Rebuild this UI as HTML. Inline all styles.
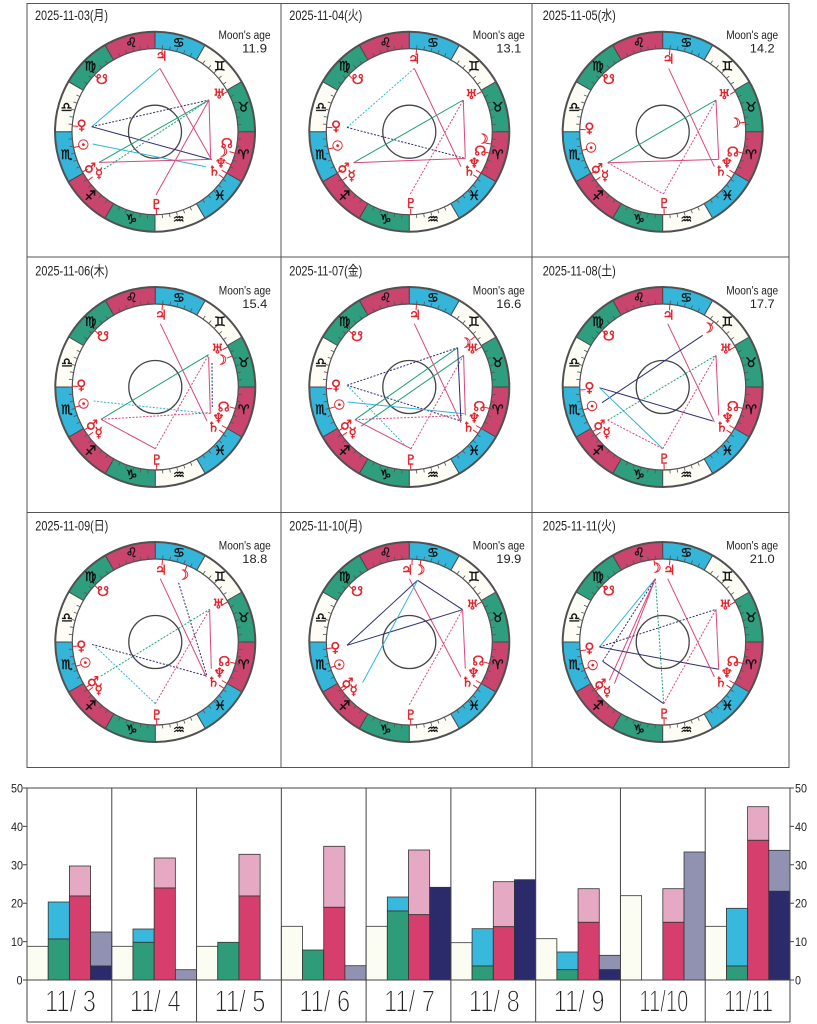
<!DOCTYPE html>
<html><head><meta charset="utf-8"><style>
html,body{margin:0;padding:0;background:#fff}
svg{display:block}
.z text{font-family:"DejaVu Sans",sans-serif;font-size:13px;fill:#111;stroke:#111;stroke-width:.45;text-anchor:middle;dominant-baseline:central}
.pl text{font-family:"DejaVu Sans",sans-serif;font-size:13.5px;fill:#e2232c;stroke:#e2232c;stroke-width:.4;text-anchor:middle;dominant-baseline:central}
.tk line{stroke:#e2232c;stroke-width:1}
.d{font-family:"Liberation Sans","Noto Sans CJK JP",sans-serif;font-size:13.5px;fill:#222}
.m{font-family:"Liberation Sans",sans-serif;font-size:11.5px;fill:#222}
.ln path{fill:none;stroke-width:1}
.p{stroke:#dc4677}.pd{stroke:#dc4677;stroke-dasharray:2 1.5}
.c{stroke:#2fb6d8}.cd{stroke:#2fb6d8;stroke-dasharray:2 1.5}
.g{stroke:#1f9e72}.gd{stroke:#1f9e72;stroke-dasharray:2 1.5}
.n{stroke:#2d2d72}.nd{stroke:#2d2d72;stroke-dasharray:2 1.5}
.bar rect{stroke:#333;stroke-width:.8}
.ax{font-family:"Liberation Sans",sans-serif;font-size:12px;fill:#222}
.dl{font-family:"Liberation Sans",sans-serif;font-size:31px;fill:#222;stroke:#fff;stroke-width:1.1;text-anchor:middle}
</style></head><body>
<svg width="817" height="1024" viewBox="0 0 817 1024" xmlns="http://www.w3.org/2000/svg">
<defs>
<g id="ring">
<circle r="100" fill="#fff"/>
<circle r="91.5" fill="none" stroke="#c9456e" stroke-width="17" stroke-dasharray="47.913 143.739"/>
<circle r="91.5" fill="none" stroke="#35b5d9" stroke-width="17" stroke-dasharray="47.913 143.739" stroke-dashoffset="-47.913"/>
<circle r="91.5" fill="none" stroke="#fdfdf6" stroke-width="17" stroke-dasharray="47.913 143.739" stroke-dashoffset="-95.826"/>
<circle r="91.5" fill="none" stroke="#2f9e7e" stroke-width="17" stroke-dasharray="47.913 143.739" stroke-dashoffset="-143.739"/>
<path d="M83,0L100,0M71.88,-41.5L86.6,-50M41.5,-71.88L50,-86.6M0,-83L0,-100M-41.5,-71.88L-50,-86.6M-71.88,-41.5L-86.6,-50M-83,0L-100,0M-71.88,41.5L-86.6,50M-41.5,71.88L-50,86.6M0,83L0,100M41.5,71.88L50,86.6M71.88,41.5L86.6,50" stroke="#444" stroke-width="1"/>
<circle r="85" fill="none" stroke="#555" stroke-width="3.5" stroke-dasharray="0.8 6.6176" stroke-dashoffset="0.4"/>
<circle r="100" fill="none" stroke="#505050" stroke-width="2"/>
<circle r="83" fill="none" stroke="#505050" stroke-width="1.2"/>
<circle r="26.5" fill="none" stroke="#444" stroke-width="1.3"/>
</g>
</defs>

<!-- grid -->
<g stroke="#555" stroke-width="1" fill="none">
<rect x="27" y="3.5" width="762" height="764"/>
<path d="M281,3.5V767.5M532,3.5V767.5M27,257H789M27,512.5H789"/>
</g>

<!-- Chart 1 -->
<g transform="translate(155,131.7)">
<use href="#ring"/>
<g class="z"><text x="88.4" y="-23.7">&#x2649;&#xFE0E;</text><text x="64.7" y="-64.7">&#x264A;&#xFE0E;</text><text x="23.7" y="-88.4">&#x264B;&#xFE0E;</text><text x="-23.7" y="-88.4">&#x264C;&#xFE0E;</text><text x="-64.7" y="-64.7">&#x264D;&#xFE0E;</text><text x="-88.4" y="-23.7">&#x264E;&#xFE0E;</text><text x="-88.4" y="23.7">&#x264F;&#xFE0E;</text><text x="-64.7" y="64.7">&#x2650;&#xFE0E;</text><text x="-23.7" y="88.4">&#x2651;&#xFE0E;</text><text x="23.7" y="88.4">&#x2652;&#xFE0E;</text><text x="64.7" y="64.7">&#x2653;&#xFE0E;</text><text x="88.4" y="23.7">&#x2648;&#xFE0E;</text></g>
<text class="d" x="-120" y="-111.5" textLength="73" lengthAdjust="spacingAndGlyphs">2025-11-03(月)</text>
<text class="m" x="63.5" y="-92.5" textLength="52" lengthAdjust="spacingAndGlyphs">Moon's age</text>
<text class="m" x="87" y="-79" textLength="25" lengthAdjust="spacingAndGlyphs">11.9</text>
<g class="tk"><line x1="77" x2="83" transform="rotate(-85)"/><line x1="77" x2="83" transform="rotate(-137)"/><line x1="77" x2="83" transform="rotate(-29)"/><line x1="77" x2="83" transform="rotate(-216)"/><line x1="77" x2="83" transform="rotate(89)"/><line x1="77" x2="83" transform="rotate(15)"/><line x1="77" x2="83" transform="rotate(30)"/><line x1="77" x2="83" transform="rotate(34)"/><line x1="77" x2="83" transform="rotate(-176)"/><line x1="77" x2="83" transform="rotate(-191)"/><line x1="77" x2="83" transform="rotate(-209)"/><line x1="77" x2="83" transform="rotate(23.5)"/></g>
<g class="pl"><text x="6.7" y="-75">♃</text><text x="-53.3" y="-51.7">☋</text><text x="64.3" y="-37.3">♅</text><text x="-73.3" y="-6">♀</text><text x="-71.7" y="14">☉</text><text x="-65" y="36.7">♂</text><text x="-56" y="41.7">☿</text><text x="1.7" y="73.3">♇</text><text x="71.7" y="12.3">☊</text><text x="67" y="21">☽</text><text x="66" y="31.7">♆</text><text x="59.3" y="40">♄</text></g>
<g class="ln"><path class="c" d="M-63.3-5L5-63.3"/><path class="p" d="M5-63.3L56.7 28.3"/><path class="nd" d="M-63.3-5L54-31.7"/><path class="n" d="M-63.3-5L55.7 27.7"/><path class="g" d="M-56 30.7L54-31.7"/><path class="gd" d="M-51 37.3L54-31.7"/><path class="p" d="M54-31.7L55.7 27.7"/><path class="p" d="M1 63.3L54-31.7"/><path class="c" d="M-62.3 12.3L51 35"/><path class="p" d="M-56 30.7L55.7 27.7"/></g>
</g>

<!-- Chart 2 -->
<g transform="translate(409.3,131.7)">
<use href="#ring"/>
<g class="z"><text x="88.4" y="-23.7">&#x2649;&#xFE0E;</text><text x="64.7" y="-64.7">&#x264A;&#xFE0E;</text><text x="23.7" y="-88.4">&#x264B;&#xFE0E;</text><text x="-23.7" y="-88.4">&#x264C;&#xFE0E;</text><text x="-64.7" y="-64.7">&#x264D;&#xFE0E;</text><text x="-88.4" y="-23.7">&#x264E;&#xFE0E;</text><text x="-88.4" y="23.7">&#x264F;&#xFE0E;</text><text x="-64.7" y="64.7">&#x2650;&#xFE0E;</text><text x="-23.7" y="88.4">&#x2651;&#xFE0E;</text><text x="23.7" y="88.4">&#x2652;&#xFE0E;</text><text x="64.7" y="64.7">&#x2653;&#xFE0E;</text><text x="88.4" y="23.7">&#x2648;&#xFE0E;</text></g>
<text class="d" x="-120" y="-111.5" textLength="73" lengthAdjust="spacingAndGlyphs">2025-11-04(火)</text>
<text class="m" x="63.5" y="-92.5" textLength="52" lengthAdjust="spacingAndGlyphs">Moon's age</text>
<text class="m" x="87" y="-79" textLength="25" lengthAdjust="spacingAndGlyphs">13.1</text>
<g class="tk"><line x1="77" x2="83" transform="rotate(-85)"/><line x1="77" x2="83" transform="rotate(-137)"/><line x1="77" x2="83" transform="rotate(-29)"/><line x1="77" x2="83" transform="rotate(-216)"/><line x1="77" x2="83" transform="rotate(89)"/><line x1="77" x2="83" transform="rotate(15)"/><line x1="77" x2="83" transform="rotate(30)"/><line x1="77" x2="83" transform="rotate(34)"/><line x1="77" x2="83" transform="rotate(-177)"/><line x1="77" x2="83" transform="rotate(-192)"/><line x1="77" x2="83" transform="rotate(-209.7)"/><line x1="77" x2="83" transform="rotate(8.5)"/></g>
<g class="pl"><text x="5" y="-72.3">♃</text><text x="-51.7" y="-51.7">☋</text><text x="62.3" y="-36.7">♅</text><text x="-73.3" y="-5">♀</text><text x="-71.7" y="15">☉</text><text x="-65.7" y="36.7">♂</text><text x="-57.7" y="44.3">☿</text><text x="1.7" y="72.3">♇</text><text x="73.3" y="7.7">☽</text><text x="71" y="20">☊</text><text x="65" y="31.7">♆</text><text x="60" y="40">♄</text></g>
<g class="ln"><path class="cd" d="M-62.3-4.3L5-63.3"/><path class="p" d="M5-63.3L51.7 35"/><path class="nd" d="M-62.3-4.3L56 26.7"/><path class="g" d="M-55.7 31L54-31.7"/><path class="p" d="M-55.7 31L56 26.7"/><path class="p" d="M54-31.7L56 26.7"/><path class="pd" d="M1 62.3L54-31.7"/></g>
</g>

<!-- Chart 3 -->
<g transform="translate(662.7,131.7)">
<use href="#ring"/>
<g class="z"><text x="88.4" y="-23.7">&#x2649;&#xFE0E;</text><text x="64.7" y="-64.7">&#x264A;&#xFE0E;</text><text x="23.7" y="-88.4">&#x264B;&#xFE0E;</text><text x="-23.7" y="-88.4">&#x264C;&#xFE0E;</text><text x="-64.7" y="-64.7">&#x264D;&#xFE0E;</text><text x="-88.4" y="-23.7">&#x264E;&#xFE0E;</text><text x="-88.4" y="23.7">&#x264F;&#xFE0E;</text><text x="-64.7" y="64.7">&#x2650;&#xFE0E;</text><text x="-23.7" y="88.4">&#x2651;&#xFE0E;</text><text x="23.7" y="88.4">&#x2652;&#xFE0E;</text><text x="64.7" y="64.7">&#x2653;&#xFE0E;</text><text x="88.4" y="23.7">&#x2648;&#xFE0E;</text></g>
<text class="d" x="-120" y="-111.5" textLength="73" lengthAdjust="spacingAndGlyphs">2025-11-05(水)</text>
<text class="m" x="63.5" y="-92.5" textLength="52" lengthAdjust="spacingAndGlyphs">Moon's age</text>
<text class="m" x="87" y="-79" textLength="25" lengthAdjust="spacingAndGlyphs">14.2</text>
<g class="tk"><line x1="77" x2="83" transform="rotate(-85)"/><line x1="77" x2="83" transform="rotate(-137)"/><line x1="77" x2="83" transform="rotate(-29)"/><line x1="77" x2="83" transform="rotate(-216)"/><line x1="77" x2="83" transform="rotate(89)"/><line x1="77" x2="83" transform="rotate(15)"/><line x1="77" x2="83" transform="rotate(30)"/><line x1="77" x2="83" transform="rotate(34)"/><line x1="77" x2="83" transform="rotate(-178.5)"/><line x1="77" x2="83" transform="rotate(-193)"/><line x1="77" x2="83" transform="rotate(-210.4)"/><line x1="77" x2="83" transform="rotate(-6.5)"/></g>
<g class="pl"><text x="6" y="-72.3">♃</text><text x="-54" y="-51.7">☋</text><text x="61.7" y="-36.7">♅</text><text x="72.3" y="-8.3">☽</text><text x="-73.3" y="-3.3">♀</text><text x="-71.7" y="16.7">☉</text><text x="70" y="21">☊</text><text x="64.3" y="31.7">♆</text><text x="58.3" y="40">♄</text><text x="-65.7" y="37.3">♂</text><text x="-57.7" y="44.3">☿</text><text x="1.7" y="72.3">♇</text></g>
<g class="ln"><path class="p" d="M6-63.3L51.7 35"/><path class="g" d="M-55 31L53.3-31.7"/><path class="p" d="M-55 31L56 27.7"/><path class="p" d="M53.3-31.7L56 27.7"/><path class="pd" d="M-55 31L0.7 62.3"/><path class="pd" d="M0.7 62.3L53.3-31.7"/></g>
</g>

<!-- Chart 4 -->
<g transform="translate(155.3,387)">
<use href="#ring"/>
<g class="z"><text x="88.4" y="-23.7">&#x2649;&#xFE0E;</text><text x="64.7" y="-64.7">&#x264A;&#xFE0E;</text><text x="23.7" y="-88.4">&#x264B;&#xFE0E;</text><text x="-23.7" y="-88.4">&#x264C;&#xFE0E;</text><text x="-64.7" y="-64.7">&#x264D;&#xFE0E;</text><text x="-88.4" y="-23.7">&#x264E;&#xFE0E;</text><text x="-88.4" y="23.7">&#x264F;&#xFE0E;</text><text x="-64.7" y="64.7">&#x2650;&#xFE0E;</text><text x="-23.7" y="88.4">&#x2651;&#xFE0E;</text><text x="23.7" y="88.4">&#x2652;&#xFE0E;</text><text x="64.7" y="64.7">&#x2653;&#xFE0E;</text><text x="88.4" y="23.7">&#x2648;&#xFE0E;</text></g>
<text class="d" x="-120" y="-111.5" textLength="73" lengthAdjust="spacingAndGlyphs">2025-11-06(木)</text>
<text class="m" x="63.5" y="-92.5" textLength="52" lengthAdjust="spacingAndGlyphs">Moon's age</text>
<text class="m" x="87" y="-79" textLength="25" lengthAdjust="spacingAndGlyphs">15.4</text>
<g class="tk"><line x1="77" x2="83" transform="rotate(-85)"/><line x1="77" x2="83" transform="rotate(-137)"/><line x1="77" x2="83" transform="rotate(-29)"/><line x1="77" x2="83" transform="rotate(-216)"/><line x1="77" x2="83" transform="rotate(89)"/><line x1="77" x2="83" transform="rotate(15)"/><line x1="77" x2="83" transform="rotate(30)"/><line x1="77" x2="83" transform="rotate(34)"/><line x1="77" x2="83" transform="rotate(-179.5)"/><line x1="77" x2="83" transform="rotate(-194)"/><line x1="77" x2="83" transform="rotate(-211.1)"/><line x1="77" x2="83" transform="rotate(-22)"/></g>
<g class="pl"><text x="5.7" y="-71.7">♃</text><text x="-52.3" y="-50">☋</text><text x="62.3" y="-37.3">♅</text><text x="65.7" y="-26.7">☽</text><text x="-74" y="-1.7">♀</text><text x="-71.7" y="17.3">☉</text><text x="68.3" y="20.7">☊</text><text x="63.3" y="31.7">♆</text><text x="58.3" y="40.7">♄</text><text x="-63.3" y="38.3">♂</text><text x="-56.7" y="46">☿</text><text x="1.7" y="73.3">♇</text></g>
<g class="ln"><path class="p" d="M5-63.3L51.7 34"/><path class="g" d="M-54.3 32.3L53.3-32.3"/><path class="cd" d="M-61.7 14L56 26.7"/><path class="pd" d="M-54.3 32.3L56 25.7"/><path class="p" d="M-54.3 32.3L0 61.7"/><path class="pd" d="M0 61.7L53.3-32.3"/><path class="p" d="M53.3-30L55 25"/><path class="nd" d="M56.7-24L57 20"/></g>
</g>

<!-- Chart 5 -->
<g transform="translate(409.3,387)">
<use href="#ring"/>
<g class="z"><text x="88.4" y="-23.7">&#x2649;&#xFE0E;</text><text x="64.7" y="-64.7">&#x264A;&#xFE0E;</text><text x="23.7" y="-88.4">&#x264B;&#xFE0E;</text><text x="-23.7" y="-88.4">&#x264C;&#xFE0E;</text><text x="-64.7" y="-64.7">&#x264D;&#xFE0E;</text><text x="-88.4" y="-23.7">&#x264E;&#xFE0E;</text><text x="-88.4" y="23.7">&#x264F;&#xFE0E;</text><text x="-64.7" y="64.7">&#x2650;&#xFE0E;</text><text x="-23.7" y="88.4">&#x2651;&#xFE0E;</text><text x="23.7" y="88.4">&#x2652;&#xFE0E;</text><text x="64.7" y="64.7">&#x2653;&#xFE0E;</text><text x="88.4" y="23.7">&#x2648;&#xFE0E;</text></g>
<text class="d" x="-120" y="-111.5" textLength="73" lengthAdjust="spacingAndGlyphs">2025-11-07(金)</text>
<text class="m" x="63.5" y="-92.5" textLength="52" lengthAdjust="spacingAndGlyphs">Moon's age</text>
<text class="m" x="87" y="-79" textLength="25" lengthAdjust="spacingAndGlyphs">16.6</text>
<g class="tk"><line x1="77" x2="83" transform="rotate(-85)"/><line x1="77" x2="83" transform="rotate(-137)"/><line x1="77" x2="83" transform="rotate(-29)"/><line x1="77" x2="83" transform="rotate(-216)"/><line x1="77" x2="83" transform="rotate(89)"/><line x1="77" x2="83" transform="rotate(15)"/><line x1="77" x2="83" transform="rotate(30)"/><line x1="77" x2="83" transform="rotate(34)"/><line x1="77" x2="83" transform="rotate(-181)"/><line x1="77" x2="83" transform="rotate(-195)"/><line x1="77" x2="83" transform="rotate(-211.8)"/><line x1="77" x2="83" transform="rotate(-37.5)"/></g>
<g class="pl"><text x="5.7" y="-71.7">♃</text><text x="-52.3" y="-50">☋</text><text x="56" y="-43.3">☽</text><text x="63.3" y="-37.3">♅</text><text x="-73.3" y="-1.7">♀</text><text x="-70" y="18.3">☉</text><text x="70" y="20">☊</text><text x="65" y="31.7">♆</text><text x="59.3" y="40.7">♄</text><text x="-63.3" y="38.3">♂</text><text x="-56.7" y="46">☿</text><text x="1.7" y="73.3">♇</text></g>
<g class="ln"><path class="p" d="M5-63.3L51.7 35.7"/><path class="nd" d="M-62.3-1.7L48.3-39.3"/><path class="nd" d="M-62.3-1.7L51.7 34"/><path class="cd" d="M-62.3-1.7L-3.3 59.3"/><path class="c" d="M-61.7 15L55 26.7"/><path class="g" d="M-54.3 32.7L48.3-39.3"/><path class="g" d="M-48.3 39.3L54.3-31.7"/><path class="p" d="M-54.3 32.7L1.7 61.7"/><path class="pd" d="M-54.3 32.7L54.3 28.3"/><path class="pd" d="M1.7 61.7L54.3-31.7"/><path class="n" d="M48.3-39.3L51.7 34"/><path class="p" d="M54.3-31.7L56 28.3"/></g>
</g>

<!-- Chart 6 -->
<g transform="translate(662.7,387)">
<use href="#ring"/>
<g class="z"><text x="88.4" y="-23.7">&#x2649;&#xFE0E;</text><text x="64.7" y="-64.7">&#x264A;&#xFE0E;</text><text x="23.7" y="-88.4">&#x264B;&#xFE0E;</text><text x="-23.7" y="-88.4">&#x264C;&#xFE0E;</text><text x="-64.7" y="-64.7">&#x264D;&#xFE0E;</text><text x="-88.4" y="-23.7">&#x264E;&#xFE0E;</text><text x="-88.4" y="23.7">&#x264F;&#xFE0E;</text><text x="-64.7" y="64.7">&#x2650;&#xFE0E;</text><text x="-23.7" y="88.4">&#x2651;&#xFE0E;</text><text x="23.7" y="88.4">&#x2652;&#xFE0E;</text><text x="64.7" y="64.7">&#x2653;&#xFE0E;</text><text x="88.4" y="23.7">&#x2648;&#xFE0E;</text></g>
<text class="d" x="-120" y="-111.5" textLength="73" lengthAdjust="spacingAndGlyphs">2025-11-08(土)</text>
<text class="m" x="63.5" y="-92.5" textLength="52" lengthAdjust="spacingAndGlyphs">Moon's age</text>
<text class="m" x="87" y="-79" textLength="25" lengthAdjust="spacingAndGlyphs">17.7</text>
<g class="tk"><line x1="77" x2="83" transform="rotate(-85)"/><line x1="77" x2="83" transform="rotate(-137)"/><line x1="77" x2="83" transform="rotate(-29)"/><line x1="77" x2="83" transform="rotate(-216)"/><line x1="77" x2="83" transform="rotate(89)"/><line x1="77" x2="83" transform="rotate(15)"/><line x1="77" x2="83" transform="rotate(30)"/><line x1="77" x2="83" transform="rotate(34)"/><line x1="77" x2="83" transform="rotate(-182)"/><line x1="77" x2="83" transform="rotate(-196)"/><line x1="77" x2="83" transform="rotate(-212.5)"/><line x1="77" x2="83" transform="rotate(-52)"/></g>
<g class="pl"><text x="6" y="-71.7">♃</text><text x="-54" y="-50.7">☋</text><text x="45" y="-58.3">☽</text><text x="63.3" y="-37.3">♅</text><text x="-73.3" y="1">♀</text><text x="-70.7" y="20">☉</text><text x="70" y="20">☊</text><text x="65" y="31.7">♆</text><text x="59.3" y="40.7">♄</text><text x="-63.3" y="38.3">♂</text><text x="-56" y="46">☿</text><text x="1.7" y="72.7">♇</text></g>
<g class="ln"><path class="p" d="M5-63.3L51.7 35"/><path class="n" d="M-60.7 15.7L40-51.7"/><path class="n" d="M-63.3 0.7L50 34"/><path class="c" d="M-63.3 0.7L0 61.7"/><path class="gd" d="M-55 33.3L53.3-31.7"/><path class="pd" d="M-55 33.3L0 61.7"/><path class="pd" d="M0 61.7L53.3-31.7"/><path class="p" d="M53.3-31.7L56 28.3"/></g>
</g>

<!-- Chart 7 -->
<g transform="translate(155.3,642)">
<use href="#ring"/>
<g class="z"><text x="88.4" y="-23.7">&#x2649;&#xFE0E;</text><text x="64.7" y="-64.7">&#x264A;&#xFE0E;</text><text x="23.7" y="-88.4">&#x264B;&#xFE0E;</text><text x="-23.7" y="-88.4">&#x264C;&#xFE0E;</text><text x="-64.7" y="-64.7">&#x264D;&#xFE0E;</text><text x="-88.4" y="-23.7">&#x264E;&#xFE0E;</text><text x="-88.4" y="23.7">&#x264F;&#xFE0E;</text><text x="-64.7" y="64.7">&#x2650;&#xFE0E;</text><text x="-23.7" y="88.4">&#x2651;&#xFE0E;</text><text x="23.7" y="88.4">&#x2652;&#xFE0E;</text><text x="64.7" y="64.7">&#x2653;&#xFE0E;</text><text x="88.4" y="23.7">&#x2648;&#xFE0E;</text></g>
<text class="d" x="-120" y="-111.5" textLength="73" lengthAdjust="spacingAndGlyphs">2025-11-09(日)</text>
<text class="m" x="63.5" y="-92.5" textLength="52" lengthAdjust="spacingAndGlyphs">Moon's age</text>
<text class="m" x="87" y="-79" textLength="25" lengthAdjust="spacingAndGlyphs">18.8</text>
<g class="tk"><line x1="77" x2="83" transform="rotate(-85)"/><line x1="77" x2="83" transform="rotate(-137)"/><line x1="77" x2="83" transform="rotate(-29)"/><line x1="77" x2="83" transform="rotate(-216)"/><line x1="77" x2="83" transform="rotate(89)"/><line x1="77" x2="83" transform="rotate(15)"/><line x1="77" x2="83" transform="rotate(30)"/><line x1="77" x2="83" transform="rotate(34)"/><line x1="77" x2="83" transform="rotate(-183)"/><line x1="77" x2="83" transform="rotate(-197)"/><line x1="77" x2="83" transform="rotate(-213.2)"/><line x1="77" x2="83" transform="rotate(-67.5)"/></g>
<g class="pl"><text x="5.7" y="-71.7">♃</text><text x="27.7" y="-66.7">☽</text><text x="-52.3" y="-50">☋</text><text x="63.3" y="-37.3">♅</text><text x="-74" y="4.3">♀</text><text x="-70" y="21.7">☉</text><text x="69" y="20">☊</text><text x="64.3" y="31.7">♆</text><text x="58.3" y="40.7">♄</text><text x="-62.3" y="40">♂</text><text x="-56.7" y="47.3">☿</text><text x="1.7" y="73.3">♇</text></g>
<g class="ln"><path class="p" d="M5-63.3L51 35"/><path class="nd" d="M23.3-59.3L51.7 34"/><path class="nd" d="M-63.3 2.3L51.7 34"/><path class="cd" d="M-62.3 2.3L0 61.7"/><path class="gd" d="M-54.3 34L54.3-32.7"/><path class="pd" d="M0 61.7L54.3-32.7"/><path class="p" d="M54.3-32.7L56 26.7"/></g>
</g>

<!-- Chart 8 -->
<g transform="translate(409.3,642)">
<use href="#ring"/>
<g class="z"><text x="88.4" y="-23.7">&#x2649;&#xFE0E;</text><text x="64.7" y="-64.7">&#x264A;&#xFE0E;</text><text x="23.7" y="-88.4">&#x264B;&#xFE0E;</text><text x="-23.7" y="-88.4">&#x264C;&#xFE0E;</text><text x="-64.7" y="-64.7">&#x264D;&#xFE0E;</text><text x="-88.4" y="-23.7">&#x264E;&#xFE0E;</text><text x="-88.4" y="23.7">&#x264F;&#xFE0E;</text><text x="-64.7" y="64.7">&#x2650;&#xFE0E;</text><text x="-23.7" y="88.4">&#x2651;&#xFE0E;</text><text x="23.7" y="88.4">&#x2652;&#xFE0E;</text><text x="64.7" y="64.7">&#x2653;&#xFE0E;</text><text x="88.4" y="23.7">&#x2648;&#xFE0E;</text></g>
<text class="d" x="-120" y="-111.5" textLength="73" lengthAdjust="spacingAndGlyphs">2025-11-10(月)</text>
<text class="m" x="63.5" y="-92.5" textLength="52" lengthAdjust="spacingAndGlyphs">Moon's age</text>
<text class="m" x="87" y="-79" textLength="25" lengthAdjust="spacingAndGlyphs">19.9</text>
<g class="tk"><line x1="77" x2="83" transform="rotate(-88)"/><line x1="77" x2="83" transform="rotate(-137)"/><line x1="77" x2="83" transform="rotate(-29)"/><line x1="77" x2="83" transform="rotate(-216)"/><line x1="77" x2="83" transform="rotate(89)"/><line x1="77" x2="83" transform="rotate(15)"/><line x1="77" x2="83" transform="rotate(30)"/><line x1="77" x2="83" transform="rotate(34)"/><line x1="77" x2="83" transform="rotate(-184.5)"/><line x1="77" x2="83" transform="rotate(-198)"/><line x1="77" x2="83" transform="rotate(-213.9)"/><line x1="77" x2="83" transform="rotate(-82)"/></g>
<g class="pl"><text x="-2" y="-71.7">♃</text><text x="10" y="-71.7">☽</text><text x="-52.3" y="-50">☋</text><text x="63.3" y="-36.7">♅</text><text x="-74" y="6">♀</text><text x="-70" y="23.3">☉</text><text x="69" y="19.3">☊</text><text x="64.3" y="31.7">♆</text><text x="58.3" y="40.7">♄</text><text x="-61.7" y="41.7">♂</text><text x="-55.7" y="48.3">☿</text><text x="1.7" y="73.3">♇</text></g>
<g class="ln"><path class="p" d="M0-63.3L51.7 35"/><path class="n" d="M-62.3 3.3L8.3-61.7"/><path class="n" d="M8.3-61.7L53.3-32.3"/><path class="n" d="M-62.3 3.3L53.3-32.3"/><path class="c" d="M-46.7 40.7L8.3-61.7"/><path class="p" d="M53.3-32.3L56 26.7"/><path class="pd" d="M0 62.7L53.3-32.3"/></g>
</g>

<!-- Chart 9 -->
<g transform="translate(662.7,642)">
<use href="#ring"/>
<g class="z"><text x="88.4" y="-23.7">&#x2649;&#xFE0E;</text><text x="64.7" y="-64.7">&#x264A;&#xFE0E;</text><text x="23.7" y="-88.4">&#x264B;&#xFE0E;</text><text x="-23.7" y="-88.4">&#x264C;&#xFE0E;</text><text x="-64.7" y="-64.7">&#x264D;&#xFE0E;</text><text x="-88.4" y="-23.7">&#x264E;&#xFE0E;</text><text x="-88.4" y="23.7">&#x264F;&#xFE0E;</text><text x="-64.7" y="64.7">&#x2650;&#xFE0E;</text><text x="-23.7" y="88.4">&#x2651;&#xFE0E;</text><text x="23.7" y="88.4">&#x2652;&#xFE0E;</text><text x="64.7" y="64.7">&#x2653;&#xFE0E;</text><text x="88.4" y="23.7">&#x2648;&#xFE0E;</text></g>
<text class="d" x="-120" y="-111.5" textLength="73" lengthAdjust="spacingAndGlyphs">2025-11-11(火)</text>
<text class="m" x="63.5" y="-92.5" textLength="52" lengthAdjust="spacingAndGlyphs">Moon's age</text>
<text class="m" x="87" y="-79" textLength="25" lengthAdjust="spacingAndGlyphs">21.0</text>
<g class="tk"><line x1="77" x2="83" transform="rotate(-85)"/><line x1="77" x2="83" transform="rotate(-137)"/><line x1="77" x2="83" transform="rotate(-29)"/><line x1="77" x2="83" transform="rotate(-216)"/><line x1="77" x2="83" transform="rotate(89)"/><line x1="77" x2="83" transform="rotate(15)"/><line x1="77" x2="83" transform="rotate(30)"/><line x1="77" x2="83" transform="rotate(34)"/><line x1="77" x2="83" transform="rotate(-186)"/><line x1="77" x2="83" transform="rotate(-199)"/><line x1="77" x2="83" transform="rotate(-214.6)"/><line x1="77" x2="83" transform="rotate(-96)"/></g>
<g class="pl"><text x="-7.3" y="-73.3">☽</text><text x="6.7" y="-71.7">♃</text><text x="-54" y="-50.7">☋</text><text x="62.7" y="-36.7">♅</text><text x="-73.3" y="6.7">♀</text><text x="-70" y="24">☉</text><text x="70" y="20">☊</text><text x="64.3" y="31.7">♆</text><text x="58.3" y="40.7">♄</text><text x="-62.3" y="42.7">♂</text><text x="-55.7" y="50">☿</text><text x="1.7" y="72.7">♇</text></g>
<g class="ln"><path class="c" d="M-63.3 5L-7.3-63.3"/><path class="nd" d="M-60 19.3L-7.3-63.3"/><path class="p" d="M-53.3 38.3L-7.3-63.3"/><path class="p" d="M-48.3 41.7L-7.3-63.3"/><path class="nd" d="M-63.3 5L53.3-32.7"/><path class="n" d="M-63.3 5L56 27.3"/><path class="gd" d="M-7.3-63.3L1 61.7"/><path class="n" d="M-60 19.3L1 61.7"/><path class="pd" d="M1 61.7L53.3-32.7"/><path class="p" d="M5-63.3L51.7 35"/><path class="p" d="M53.3-32.7L56 27.3"/></g>
</g>

<!-- Bar chart -->
<g class="bar">
<rect x="27" y="946.3" width="21.19" height="33.7" fill="#fcfdf2"/>
<rect x="48.19" y="902" width="21.19" height="37" fill="#38b8dc"/>
<rect x="48.19" y="939" width="21.19" height="41" fill="#2e9c78"/>
<rect x="69.39" y="866" width="21.19" height="30" fill="#e5a9c3"/>
<rect x="69.39" y="896" width="21.19" height="84" fill="#d63f6d"/>
<rect x="90.58" y="932" width="21.19" height="34" fill="#9192b2"/>
<rect x="90.58" y="966" width="21.19" height="14" fill="#2b2b6b"/>
<rect x="111.78" y="946.3" width="21.19" height="33.7" fill="#fcfdf2"/>
<rect x="132.97" y="929" width="21.19" height="13.3" fill="#38b8dc"/>
<rect x="132.97" y="942.3" width="21.19" height="37.7" fill="#2e9c78"/>
<rect x="154.17" y="858" width="21.19" height="30" fill="#e5a9c3"/>
<rect x="154.17" y="888" width="21.19" height="92" fill="#d63f6d"/>
<rect x="175.36" y="969.7" width="21.19" height="10.3" fill="#9192b2"/>
<rect x="196.56" y="946.3" width="21.19" height="33.7" fill="#fcfdf2"/>
<rect x="217.75" y="942.3" width="21.19" height="37.7" fill="#2e9c78"/>
<rect x="238.94" y="854.3" width="21.19" height="41.7" fill="#e5a9c3"/>
<rect x="238.94" y="896" width="21.19" height="84" fill="#d63f6d"/>
<rect x="281.33" y="926.3" width="21.19" height="53.7" fill="#fcfdf2"/>
<rect x="302.53" y="950" width="21.19" height="30" fill="#2e9c78"/>
<rect x="323.72" y="846.3" width="21.19" height="61" fill="#e5a9c3"/>
<rect x="323.72" y="907.3" width="21.19" height="72.7" fill="#d63f6d"/>
<rect x="344.92" y="965.7" width="21.19" height="14.3" fill="#9192b2"/>
<rect x="366.11" y="926.3" width="21.19" height="53.7" fill="#fcfdf2"/>
<rect x="387.31" y="897" width="21.19" height="14" fill="#38b8dc"/>
<rect x="387.31" y="911" width="21.19" height="69" fill="#2e9c78"/>
<rect x="408.5" y="850" width="21.19" height="64.7" fill="#e5a9c3"/>
<rect x="408.5" y="914.7" width="21.19" height="65.3" fill="#d63f6d"/>
<rect x="429.69" y="887.3" width="21.19" height="92.7" fill="#2b2b6b"/>
<rect x="450.89" y="942.7" width="21.19" height="37.3" fill="#fcfdf2"/>
<rect x="472.08" y="928.7" width="21.19" height="37.3" fill="#38b8dc"/>
<rect x="472.08" y="966" width="21.19" height="14" fill="#2e9c78"/>
<rect x="493.28" y="881.7" width="21.19" height="45" fill="#e5a9c3"/>
<rect x="493.28" y="926.7" width="21.19" height="53.3" fill="#d63f6d"/>
<rect x="514.47" y="879.7" width="21.19" height="100.3" fill="#2b2b6b"/>
<rect x="535.67" y="938.7" width="21.19" height="41.3" fill="#fcfdf2"/>
<rect x="556.86" y="952" width="21.19" height="17.7" fill="#38b8dc"/>
<rect x="556.86" y="969.7" width="21.19" height="10.3" fill="#2e9c78"/>
<rect x="578.06" y="888.7" width="21.19" height="33.6" fill="#e5a9c3"/>
<rect x="578.06" y="922.3" width="21.19" height="57.7" fill="#d63f6d"/>
<rect x="599.25" y="955.3" width="21.19" height="14.4" fill="#9192b2"/>
<rect x="599.25" y="969.7" width="21.19" height="10.3" fill="#2b2b6b"/>
<rect x="620.44" y="895.7" width="21.19" height="84.3" fill="#fcfdf2"/>
<rect x="662.83" y="888.7" width="21.19" height="33.6" fill="#e5a9c3"/>
<rect x="662.83" y="922.3" width="21.19" height="57.7" fill="#d63f6d"/>
<rect x="684.03" y="852" width="21.19" height="128" fill="#9192b2"/>
<rect x="705.22" y="926.3" width="21.19" height="53.7" fill="#fcfdf2"/>
<rect x="726.42" y="908.3" width="21.19" height="57.7" fill="#38b8dc"/>
<rect x="726.42" y="966" width="21.19" height="14" fill="#2e9c78"/>
<rect x="747.61" y="806.7" width="21.19" height="33.6" fill="#e5a9c3"/>
<rect x="747.61" y="840.3" width="21.19" height="139.7" fill="#d63f6d"/>
<rect x="768.81" y="850.3" width="21.19" height="41" fill="#9192b2"/>
<rect x="768.81" y="891.3" width="21.19" height="88.7" fill="#2b2b6b"/>
</g>
<g stroke="#444" stroke-width="1" fill="none">
<path d="M27,788H790M27,980H790M27,1022H790M27,788V1022M790,788V1022M111.78,788V1022M196.56,788V1022M281.33,788V1022M366.11,788V1022M450.89,788V1022M535.67,788V1022M620.44,788V1022M705.22,788V1022"/>
<path d="M23,788H27M23,826.4H27M23,864.8H27M23,903.2H27M23,941.6H27M23,980H27M790,788H794M790,826.4H794M790,864.8H794M790,903.2H794M790,941.6H794M790,980H794"/>
</g>
<g class="ax">
<text x="11" y="792.5" textLength="12" lengthAdjust="spacingAndGlyphs">50</text>
<text x="11" y="830.9" textLength="12" lengthAdjust="spacingAndGlyphs">40</text>
<text x="11" y="869.3" textLength="12" lengthAdjust="spacingAndGlyphs">30</text>
<text x="11" y="907.7" textLength="12" lengthAdjust="spacingAndGlyphs">20</text>
<text x="11" y="946.1" textLength="12" lengthAdjust="spacingAndGlyphs">10</text>
<text x="16.5" y="984.5" textLength="6" lengthAdjust="spacingAndGlyphs">0</text>
<text x="795" y="792.5" textLength="12" lengthAdjust="spacingAndGlyphs">50</text>
<text x="795" y="830.9" textLength="12" lengthAdjust="spacingAndGlyphs">40</text>
<text x="795" y="869.3" textLength="12" lengthAdjust="spacingAndGlyphs">30</text>
<text x="795" y="907.7" textLength="12" lengthAdjust="spacingAndGlyphs">20</text>
<text x="795" y="946.1" textLength="12" lengthAdjust="spacingAndGlyphs">10</text>
<text x="795" y="984.5" textLength="6" lengthAdjust="spacingAndGlyphs">0</text>
</g>
<g class="dl">
<text x="70.5" y="1011.5" textLength="51" lengthAdjust="spacingAndGlyphs">11/ 3</text>
<text x="155.2" y="1011.5" textLength="51" lengthAdjust="spacingAndGlyphs">11/ 4</text>
<text x="240" y="1011.5" textLength="51" lengthAdjust="spacingAndGlyphs">11/ 5</text>
<text x="324.7" y="1011.5" textLength="51" lengthAdjust="spacingAndGlyphs">11/ 6</text>
<text x="409.5" y="1011.5" textLength="51" lengthAdjust="spacingAndGlyphs">11/ 7</text>
<text x="494.3" y="1011.5" textLength="51" lengthAdjust="spacingAndGlyphs">11/ 8</text>
<text x="579.1" y="1011.5" textLength="51" lengthAdjust="spacingAndGlyphs">11/ 9</text>
<text x="663.8" y="1011.5" textLength="49" lengthAdjust="spacingAndGlyphs">11/10</text>
<text x="748.6" y="1011.5" textLength="49" lengthAdjust="spacingAndGlyphs">11/11</text>
</g>
</svg>
</body></html>
